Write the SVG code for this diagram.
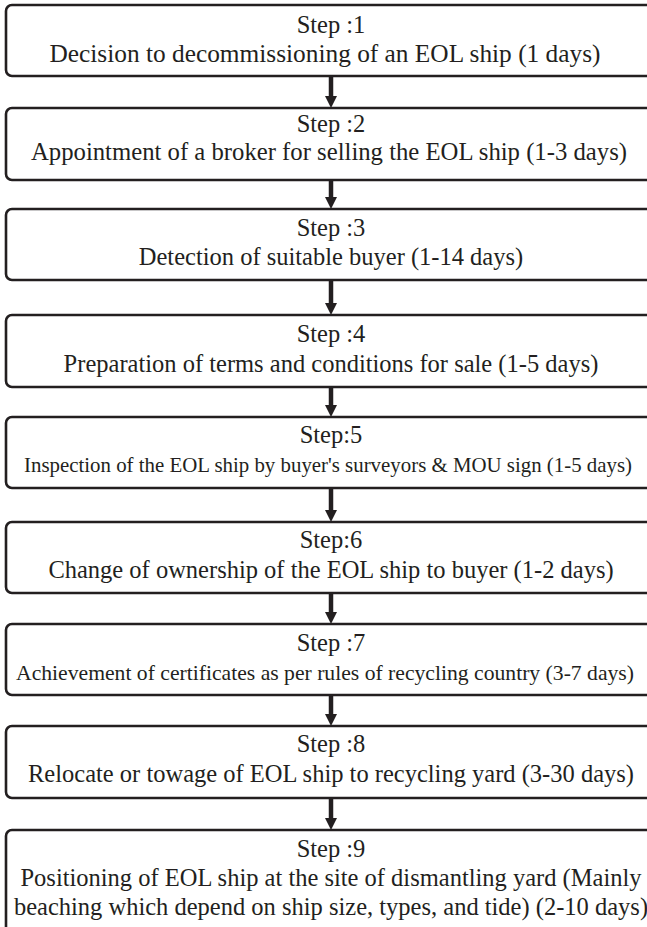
<svg xmlns="http://www.w3.org/2000/svg" width="647" height="927" viewBox="0 0 647 927" font-family="Liberation Serif, DejaVu Serif, serif">
  <style>
    .box { fill: #ffffff; stroke: #231f20; stroke-width: 2.6; }
    .t { font-size: 24.5px; fill: #231f20; text-anchor: middle; }
    .s5 { font-size: 21px; }
    .s7 { font-size: 22px; }
    .link { stroke: #231f20; stroke-width: 4.5; fill: none; }
    .head { fill: #231f20; }
  </style>
  <rect width="647" height="927" fill="#ffffff"/>

  <!-- arrows between consecutive steps -->
  <g id="connectors">
    <line class="link" x1="331" y1="76" x2="331" y2="97"/>
    <polygon class="head" points="325,96 337,96 331,108"/>
    <line class="link" x1="331" y1="180" x2="331" y2="198"/>
    <polygon class="head" points="325,197 337,197 331,209"/>
    <line class="link" x1="331" y1="280" x2="331" y2="304"/>
    <polygon class="head" points="325,303 337,303 331,315"/>
    <line class="link" x1="331" y1="387" x2="331" y2="406"/>
    <polygon class="head" points="325,405 337,405 331,417"/>
    <line class="link" x1="331" y1="488" x2="331" y2="511"/>
    <polygon class="head" points="325,510 337,510 331,522"/>
    <line class="link" x1="331" y1="593" x2="331" y2="613"/>
    <polygon class="head" points="325,612 337,612 331,624"/>
    <line class="link" x1="331" y1="695" x2="331" y2="715"/>
    <polygon class="head" points="325,714 337,714 331,726"/>
    <line class="link" x1="331" y1="798" x2="331" y2="819"/>
    <polygon class="head" points="325,818 337,818 331,830"/>
  </g>

  <g id="step1">
    <rect class="box" x="6" y="5" width="660" height="71" rx="6"/>
    <text class="t" x="331" y="33">Step :1</text>
    <text class="t" x="325" y="62" textLength="551" lengthAdjust="spacingAndGlyphs">Decision to decommissioning of an EOL ship (1 days)</text>
  </g>
  <g id="step2">
    <rect class="box" x="6" y="108" width="660" height="72" rx="6"/>
    <text class="t" x="331" y="132">Step :2</text>
    <text class="t" x="329" y="160" textLength="596" lengthAdjust="spacingAndGlyphs">Appointment of a broker for selling the EOL ship (1-3 days)</text>
  </g>
  <g id="step3">
    <rect class="box" x="6" y="209" width="660" height="71" rx="6"/>
    <text class="t" x="331" y="236">Step :3</text>
    <text class="t" x="331" y="265">Detection of suitable buyer (1-14 days)</text>
  </g>
  <g id="step4">
    <rect class="box" x="6" y="315" width="660" height="72" rx="6"/>
    <text class="t" x="331" y="342">Step :4</text>
    <text class="t" x="331" y="372">Preparation of terms and conditions for sale (1-5 days)</text>
  </g>
  <g id="step5">
    <rect class="box" x="6" y="417" width="660" height="71" rx="6"/>
    <text class="t" x="331" y="443">Step:5</text>
    <text class="t s5" x="328" y="472" textLength="608" lengthAdjust="spacingAndGlyphs">Inspection of the EOL  ship by buyer's surveyors &amp; MOU sign (1-5 days)</text>
  </g>
  <g id="step6">
    <rect class="box" x="6" y="522" width="660" height="71" rx="6"/>
    <text class="t" x="331" y="548">Step:6</text>
    <text class="t" x="331" y="578">Change of ownership of the EOL ship to buyer (1-2 days)</text>
  </g>
  <g id="step7">
    <rect class="box" x="6" y="624" width="660" height="71" rx="6"/>
    <text class="t" x="331" y="651">Step :7</text>
    <text class="t s7" x="325" y="680" textLength="618" lengthAdjust="spacingAndGlyphs">Achievement of certificates as per rules of recycling country (3-7 days)</text>
  </g>
  <g id="step8">
    <rect class="box" x="6" y="726" width="660" height="72" rx="6"/>
    <text class="t" x="331" y="752">Step :8</text>
    <text class="t" x="331" y="782">Relocate or towage of EOL ship to recycling yard (3-30 days)</text>
  </g>
  <g id="step9">
    <rect class="box" x="6" y="830" width="660" height="110" rx="6"/>
    <text class="t" x="331" y="857">Step :9</text>
    <text class="t" x="331" y="886">Positioning of EOL ship at the site of dismantling yard (Mainly</text>
    <text class="t" x="331" y="915">beaching which depend on ship size, types, and tide) (2-10 days)</text>
  </g>
</svg>
